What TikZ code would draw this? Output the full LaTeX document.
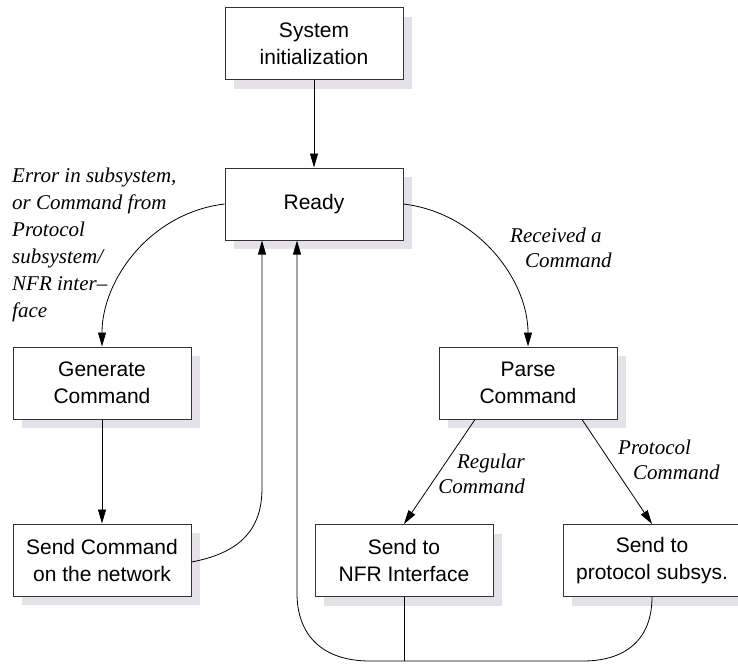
\documentclass[tikz,border=0pt]{standalone}
\usepackage{fontspec}
\setmainfont{Liberation Serif}
\setsansfont{Liberation Sans}
\usetikzlibrary{arrows.meta,shadows}
\definecolor{shadowgray}{RGB}{229,226,231}
\definecolor{boxline}{RGB}{50,50,50}
\begin{document}
\begin{tikzpicture}[x=1pt,y=-1pt,
  statebox/.style={draw=boxline, line width=1pt, fill=white,
    minimum width=178pt, minimum height=72pt, inner sep=0pt,
    align=center, font=\sffamily\fontsize{21}{27}\selectfont,
    drop shadow={shadow xshift=9pt, shadow yshift=-9pt, fill=shadowgray, opacity=1}},
  conn/.style={draw=black, line width=0.8pt},
  arr/.style={conn, -{Triangle[length=14pt,width=8pt]}},
  cond/.style={font=\itshape\fontsize{21}{25}\selectfont, inner sep=0pt}]
  \useasboundingbox (0,0) rectangle (738,666);

  % states
  \node[statebox] (init)    at (314,44)    {System\\initialization};
  \node[statebox] (ready)   at (314,204)   {Ready};
  \node[statebox] (gen)     at (102,383)   {Generate\\Command};
  \node[statebox] (parse)   at (528,383)   {Parse\\Command};
  \node[statebox] (sendnet) at (102,560)   {Send Command\\on the network};
  \node[statebox] (nfr)     at (404,560.5) {Send to\\NFR Interface};
  \node[statebox] (proto)   at (652,560.5) {Send to\\protocol subsys.};

  % return paths and join point
  \coordinate (upA)  at ([xshift=-52pt]ready.south);
  \coordinate (upB)  at ([xshift=-17pt]ready.south);
  \coordinate (join) at (404,661);

  % transitions
  \draw[arr] (init) -- (ready);
  \draw[arr] (ready.west) .. controls (150,213) and (102,280) .. (gen.north);
  \draw[arr] (ready.east) .. controls (478,213) and (528,280) .. (parse.north);
  \draw[arr] (gen) -- (sendnet);
  \draw[arr] ([yshift=-2pt]sendnet.east) .. controls (245,552) and (262,525) .. (262,488) -- (upA);
  \draw[arr] ([xshift=-53pt]parse.south) -- (nfr.north);
  \draw[arr] ([xshift=54pt]parse.south) -- (proto.north);
  \draw[arr] (proto.south) .. controls (652,640) and (625,661) .. (583,661)
    -- (370,661) .. controls (322,661) and (297,635) .. (297,593) -- (upB);
  \draw[conn] (nfr.south) -- (join);

  % transition conditions
  \node[cond, anchor=north west, align=left, font=\itshape\fontsize{21}{27}\selectfont] (c1) at (12,168)
    {Error in subsystem,\\or Command from\\Protocol\\subsystem/\\NFR inter--\\face};
  \node[cond, anchor=north west, align=left] (c2) at (510,228)
    {Received a\\\hspace*{15pt}Command};
  \node[cond, anchor=north east, align=right] (c3) at (525,454)
    {Regular\\Command};
  \node[cond, anchor=north west, align=left] (c4) at (618,440)
    {Protocol\\\hspace*{15pt}Command};
\end{tikzpicture}
\end{document}
